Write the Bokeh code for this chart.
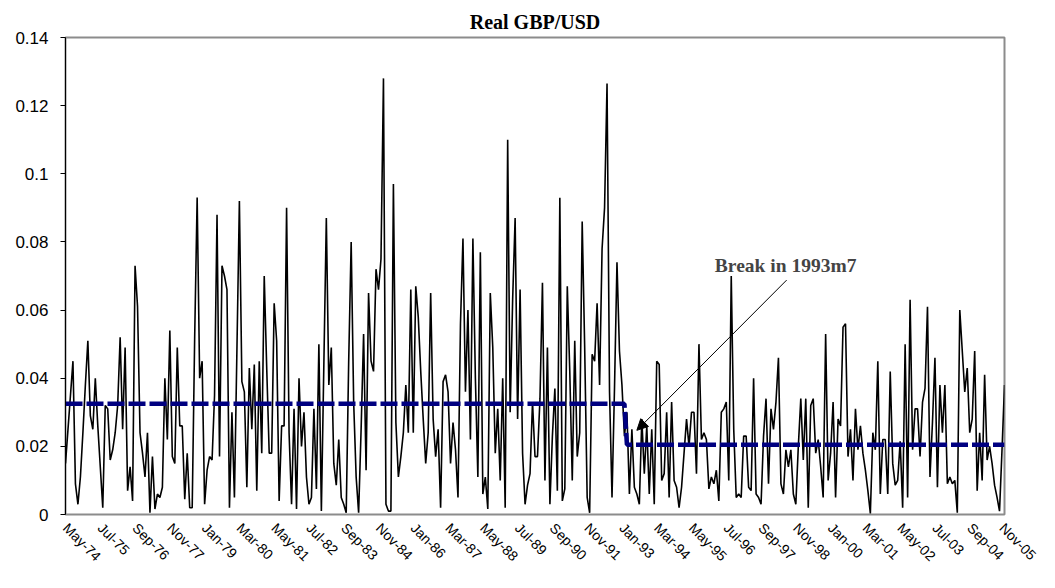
from bokeh.plotting import figure
from bokeh.models import Range1d, FixedTicker, Arrow, NormalHead, Label, Title
from bokeh.embed import file_html
from bokeh.resources import INLINE

# monthly series, May-1974 .. Nov-2005
values = [
    0.015, 0.025, 0.035, 0.045, 0.009, 0.003, 0.011, 0.024, 0.038, 0.051,
    0.029, 0.025, 0.040, 0.026, 0.014, 0.002, 0.032, 0.031, 0.016, 0.019,
    0.024, 0.032, 0.052, 0.025, 0.049, 0.007, 0.014, 0.004, 0.073, 0.061,
    0.024, 0.018, 0.011, 0.024, 0.0005, 0.017, 0.0016, 0.006, 0.005, 0.008,
    0.040, 0.022, 0.054, 0.017, 0.015, 0.049, 0.026, 0.026, 0.0045, 0.018,
    0.002, 0.002, 0.052, 0.093, 0.040, 0.045, 0.003, 0.013, 0.017, 0.016,
    0.035, 0.088, 0.017, 0.073, 0.070, 0.066, 0.002, 0.030, 0.005, 0.048,
    0.092, 0.039, 0.036, 0.008, 0.043, 0.025, 0.044, 0.007, 0.045, 0.018,
    0.070, 0.043, 0.018, 0.018, 0.062, 0.051, 0.004, 0.026, 0.026, 0.090,
    0.024, 0.003, 0.031, 0.0016, 0.040, 0.020, 0.030, 0.011, 0.003, 0.005,
    0.031, 0.0075, 0.050, 0.001, 0.044, 0.087, 0.038, 0.049, 0.015, 0.0086,
    0.022, 0.005, 0.003, 0.0005, 0.045, 0.080, 0.033, 0.011, 0.0005, 0.025,
    0.053, 0.013, 0.065, 0.045, 0.042, 0.072, 0.066, 0.075, 0.128, 0.003,
    0.001, 0.001, 0.097, 0.027, 0.011, 0.017, 0.024, 0.038, 0.024, 0.066,
    0.024, 0.067, 0.058, 0.042, 0.028, 0.015, 0.024, 0.065, 0.028, 0.017,
    0.025, 0.002, 0.039, 0.041, 0.036, 0.015, 0.027, 0.019, 0.005, 0.056,
    0.081, 0.036, 0.060, 0.022, 0.081, 0.040, 0.011, 0.077, 0.006, 0.011,
    0.0016, 0.065, 0.049, 0.018, 0.031, 0.010, 0.040, 0.002, 0.110, 0.030,
    0.063, 0.087, 0.028, 0.066, 0.018, 0.003, 0.0086, 0.012, 0.033, 0.017,
    0.017, 0.034, 0.068, 0.010, 0.049, 0.003, 0.023, 0.037, 0.007, 0.093,
    0.004, 0.0075, 0.067, 0.042, 0.010, 0.051, 0.017, 0.024, 0.086, 0.049,
    0.005, 0.0005, 0.047, 0.045, 0.062, 0.038, 0.078, 0.090, 0.1265, 0.036,
    0.005, 0.037, 0.074, 0.048, 0.038, 0.023, 0.030, 0.006, 0.025, 0.008,
    0.006, 0.003, 0.028, 0.012, 0.026, 0.006, 0.025, 0.003, 0.045, 0.044,
    0.010, 0.012, 0.030, 0.005, 0.033, 0.010, 0.008, 0.002, 0.008, 0.018,
    0.028, 0.020, 0.030, 0.030, 0.012, 0.050, 0.022, 0.024, 0.022, 0.0075,
    0.011, 0.009, 0.013, 0.004, 0.030, 0.031, 0.033, 0.010, 0.070, 0.025,
    0.005, 0.006, 0.005, 0.023, 0.023, 0.008, 0.007, 0.040, 0.006, 0.005,
    0.003, 0.023, 0.034, 0.009, 0.031, 0.025, 0.033, 0.046, 0.009, 0.006,
    0.019, 0.014, 0.019, 0.006, 0.003, 0.020, 0.034, 0.016, 0.034, 0.002,
    0.032, 0.034, 0.018, 0.022, 0.014, 0.005, 0.053, 0.010, 0.018, 0.033,
    0.005, 0.028, 0.026, 0.055, 0.056, 0.017, 0.025, 0.010, 0.031, 0.019,
    0.026, 0.018, 0.013, 0.007, 0.0003, 0.024, 0.019, 0.045, 0.006, 0.022,
    0.022, 0.006, 0.042, 0.015, 0.0086, 0.010, 0.0215, 0.002, 0.050, 0.005,
    0.063, 0.019, 0.031, 0.031, 0.017, 0.033, 0.037, 0.061, 0.011, 0.027,
    0.046, 0.008, 0.038, 0.024, 0.038, 0.009, 0.011, 0.009, 0.010, 0.0005,
    0.060, 0.048, 0.036, 0.043, 0.024, 0.028, 0.048, 0.007, 0.024, 0.010,
    0.041, 0.016, 0.020, 0.015, 0.0086, 0.005, 0.001, 0.019, 0.038,
]

tick_labels = ["May-74", "Jul-75", "Sep-76", "Nov-77", "Jan-79", "Mar-80",
               "May-81", "Jul-82", "Sep-83", "Nov-84", "Jan-86", "Mar-87",
               "May-88", "Jul-89", "Sep-90", "Nov-91", "Jan-93", "Mar-94",
               "May-95", "Jul-96", "Sep-97", "Nov-98", "Jan-00", "Mar-01",
               "May-02", "Jul-03", "Sep-04", "Nov-05"]
tick_step = 14  # months between labels

# regime means and break
break_index = 226          # first month of the second regime
mean_before = 0.0325
mean_after = 0.0205

y_ticks = [0, 0.02, 0.04, 0.06, 0.08, 0.1, 0.12, 0.14]
y_tick_text = ["0", "0.02", "0.04", "0.06", "0.08", "0.1", "0.12", "0.14"]

title_text = "Real GBP/USD"
note_text = "Break in 1993m7"
note_pos = (261.4, 0.0731)
arrow_from = (290.3, 0.0688)
arrow_to = (230.0, 0.0247)

n = len(values)
months = list(range(n))

p = figure(width=1039, height=572, output_backend="svg", toolbar_location=None,
           x_range=Range1d(0, n - 1), y_range=Range1d(0, 0.14),
           min_border_left=65, min_border_right=35, min_border_top=37,
           min_border_bottom=50)
p.title = Title(text=title_text, align="center", text_font="Liberation Serif",
                text_font_style="bold", text_font_size="20px", text_color="black")

p.outline_line_color = "#8c8c8c"
p.outline_line_width = 2
p.xgrid.visible = False
p.ygrid.visible = False

p.line(months, values, line_color="black", line_width=1.6)

mx = [0, break_index - 1, break_index, n - 1]
my = [mean_before, mean_before, mean_after, mean_after]
p.line(mx, my, line_color="#000080", line_width=4.5, line_dash="17 4")

p.add_layout(Arrow(end=NormalHead(size=11, fill_color="black", line_color="black"),
                   x_start=arrow_from[0], y_start=arrow_from[1],
                   x_end=arrow_to[0], y_end=arrow_to[1],
                   line_color="black", line_width=1))
p.add_layout(Label(x=note_pos[0], y=note_pos[1], text=note_text,
                   text_font="Liberation Serif", text_font_style="bold",
                   text_font_size="19.5px", text_baseline="middle", text_align="left"))

xt = [i * tick_step for i in range(len(tick_labels))]
p.xaxis.ticker = FixedTicker(ticks=xt)
p.xaxis.major_label_overrides = {t: lab for t, lab in zip(xt, tick_labels)}
p.xaxis.major_label_orientation = -0.785398
p.xaxis.major_label_text_font = "Liberation Sans"
p.xaxis.major_label_text_font_size = "14px"
p.xaxis.major_label_text_color = "black"
p.xaxis.axis_line_color = None
p.xaxis.major_tick_line_color = None
p.xaxis.minor_tick_line_color = None

p.yaxis.ticker = FixedTicker(ticks=y_ticks)
p.yaxis.major_label_overrides = {t: s for t, s in zip(y_ticks, y_tick_text)}
p.yaxis.major_label_text_font = "Liberation Sans"
p.yaxis.major_label_text_font_size = "17px"
p.yaxis.major_label_text_color = "black"
p.yaxis.major_label_standoff = 12
p.yaxis.axis_line_color = "black"
p.yaxis.major_tick_line_color = "black"
p.yaxis.major_tick_out = 5
p.yaxis.major_tick_in = 0
p.yaxis.minor_tick_line_color = None

open("out.html", "w").write(file_html(p, INLINE))
